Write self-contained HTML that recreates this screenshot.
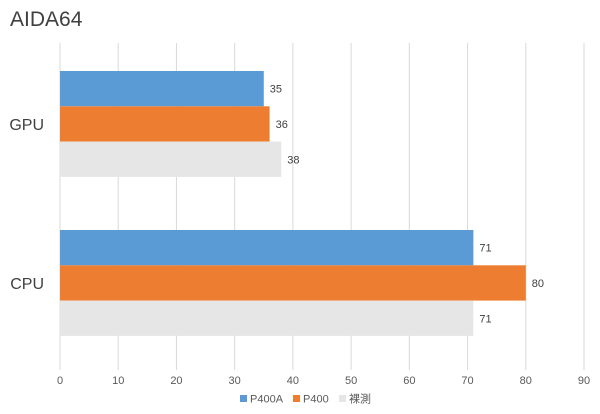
<!DOCTYPE html>
<html><head><meta charset="utf-8"><style>
body{margin:0;background:#fff;}
svg{display:block;font-family:"Liberation Sans","Noto Sans CJK TC",sans-serif;}
</style></head><body>
<svg id="chart" width="600" height="414">
<text x="10" y="26" font-size="21" fill="#404040">AIDA64</text>
<g id="grid"></g><g id="bars"></g><g id="labels"></g>
<g>
<rect x="240" y="395" width="7" height="7" fill="#5b9bd5"/>
<text x="250" y="402.5" font-size="11" fill="#595959">P400A</text>
<rect x="293" y="395" width="7" height="7" fill="#ed7d31"/>
<text x="303" y="402.5" font-size="11" fill="#595959">P400</text>
<rect x="339" y="395" width="7" height="7" fill="#e7e6e6"/>
<text x="349" y="402.5" font-size="11" fill="#595959">裸測</text>
</g>
</svg>
<script>
const categories = ["GPU", "CPU"];
const seriesNames = ["P400A", "P400", "裸測"];
const p400a = [35, 71];
const p400 = [36, 80];
const bare = [38, 71];
const ticks = [0,10,20,30,40,50,60,70,80,90];
const colors = ["#5b9bd5","#ed7d31","#e7e6e6"];
const NS="http://www.w3.org/2000/svg";
const x0=60, x1=584, xmax=90;
const xs=v=>x0+(x1-x0)*v/xmax;
const catTop=[71,230], barH=35.3;
function mk(t,a,p){const e=document.createElementNS(NS,t);for(const k in a)e.setAttribute(k,a[k]);p.appendChild(e);return e;}
const grid=document.getElementById('grid'),bars=document.getElementById('bars'),labels=document.getElementById('labels');
ticks.forEach(t=>{
  const l=mk('line',{x1:xs(t),x2:xs(t),y1:43,y2:370,stroke:'#d9d9d9','stroke-width':1},grid);
  
  
  const tx=mk('text',{x:xs(t),y:384,'font-size':11,fill:'#595959','text-anchor':'middle'},labels);
  tx.textContent=t;
  
  
});
const series=[p400a,p400,bare];
categories.forEach((c,i)=>{
  const ct=mk('text',{x:44,y:catTop[i]+barH*1.5+6,'font-size':16,fill:'#404040','text-anchor':'end'},labels);
  ct.textContent=c;
  
  
  series.forEach((s,j)=>{
    const y=catTop[i]+j*barH;
    const r=mk('rect',{x:x0,y:y,width:xs(s[i])-x0,height:barH,fill:colors[j]},bars);
    
    
    const v=mk('text',{x:xs(s[i])+6,y:y+barH/2+4,'font-size':11,fill:'#404040'},labels);
    v.textContent=s[i];
    
    
  });
});
</script>
</body></html>
